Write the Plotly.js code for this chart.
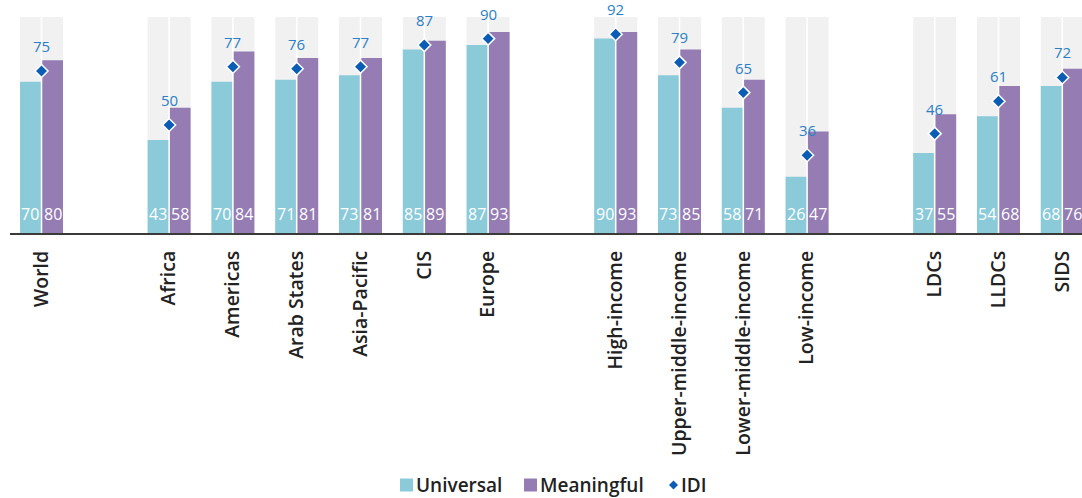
<!DOCTYPE html>
<html>
<head>
<meta charset="utf-8">
<script src="https://cdn.plot.ly/plotly-3.0.1.min.js"></script>
<style>
  html, body { margin: 0; padding: 0; background: #fff; }
  #chart { width: 1082px; height: 498px; }
</style>
</head>
<body>
<div id="chart"></div>
<script>
// Category groups (a blank slot separates each group on the axis)
const worldGroup = ["World"];
const regionGroup = ["Africa", "Americas", "Arab States", "Asia-Pacific", "CIS", "Europe"];
const incomeGroup = ["High-income", "Upper-middle-income", "Lower-middle-income", "Low-income"];
const specialGroup = ["LDCs", "LLDCs", "SIDS"];

// Values, in the order of the groups above
const universal  = [70, 43, 70, 71, 73, 85, 87, 90, 73, 58, 26, 37, 54, 68];
const meaningful = [80, 58, 84, 81, 81, 89, 93, 93, 85, 71, 47, 55, 68, 76];
const idi        = [75, 50, 77, 76, 77, 87, 90, 92, 79, 65, 36, 46, 61, 72];

const seriesNames = ["Universal", "Meaningful", "IDI"];
const scaleMax = 100;

// Build axis positions: one slot per category, one empty slot between groups
const groups = [worldGroup, regionGroup, incomeGroup, specialGroup];
const categories = [];
const xpos = [];
let slot = 0;
groups.forEach((g, gi) => {
  if (gi > 0) slot += 1;
  g.forEach(name => { categories.push(name); xpos.push(slot); slot += 1; });
});

// Bar geometry inside each slot
const barW = 0.3245;
const leftOff = -0.337;
const rightOff = 0.0125;

const C_UNI = "#8bcad9";
const C_MEA = "#957db3";
const C_IDI = "#0a5cb4";
const C_IDI_TXT = "#2c7fc5";
const C_BG = "#f1f1f1";
const C_TXT = "#222222";
const FONT = "'Open Sans', Lato, sans-serif";

const full = categories.map(() => scaleMax);

const traces = [
  { type: "bar", x: xpos, y: full, offset: leftOff, width: barW,
    marker: { color: C_BG }, showlegend: false, hoverinfo: "skip" },
  { type: "bar", x: xpos, y: full, offset: rightOff, width: barW,
    marker: { color: C_BG }, showlegend: false, hoverinfo: "skip" },
  { type: "bar", name: seriesNames[0], x: xpos, y: universal, offset: leftOff, width: barW,
    marker: { color: C_UNI }, showlegend: false },
  { type: "bar", name: seriesNames[1], x: xpos, y: meaningful, offset: rightOff, width: barW,
    marker: { color: C_MEA }, showlegend: false },
  { type: "scatter", mode: "markers", name: seriesNames[2], x: xpos, y: idi, showlegend: false,
    marker: { symbol: "diamond", size: 10, color: C_IDI, line: { color: "#ffffff", width: 1.5 } } }
];

const annotations = [];
xpos.forEach((x, i) => {
  // IDI value above its marker
  annotations.push({
    x: x, y: idi[i], xref: "x", yref: "y", text: String(idi[i]),
    showarrow: false, yanchor: "bottom", yshift: 13,
    font: { family: FONT, size: 15, color: C_IDI_TXT }
  });
  // Bar values at the foot of each bar
  annotations.push({
    x: x + leftOff + barW / 2, y: 0, xref: "x", yref: "y", text: String(universal[i]),
    showarrow: false, yanchor: "bottom", yshift: 6,
    font: { family: FONT, size: 16, color: "#ffffff" }
  });
  annotations.push({
    x: x + rightOff + barW / 2, y: 0, xref: "x", yref: "y", text: String(meaningful[i]),
    showarrow: false, yanchor: "bottom", yshift: 6,
    font: { family: FONT, size: 16, color: "#ffffff" }
  });
});

// Legend row below the axis labels (compact key: swatch right next to its text)
const W = 1082, H = 498;
const M = { l: 10, r: 0, t: 17, b: 265 };
const plotW = W - M.l - M.r, plotH = H - M.t - M.b;
const px2x = px => (px - M.l) / plotW;
const py2y = py => (H - M.b - py) / plotH;
const legendY = 485;
const legendFont = { family: FONT, size: 19, color: C_TXT, weight: 600 };
const shapes = [
  { type: "rect", xref: "paper", yref: "paper", x0: px2x(400), x1: px2x(413),
    y0: py2y(legendY + 6.5), y1: py2y(legendY - 6.5), fillcolor: C_UNI, line: { width: 0 } },
  { type: "rect", xref: "paper", yref: "paper", x0: px2x(524), x1: px2x(537),
    y0: py2y(legendY + 6.5), y1: py2y(legendY - 6.5), fillcolor: C_MEA, line: { width: 0 } },
  { type: "path", xref: "paper", yref: "paper", xsizemode: "pixel", ysizemode: "pixel",
    xanchor: px2x(673.5), yanchor: py2y(legendY), path: "M0,-4.5 L4.5,0 L0,4.5 L-4.5,0 Z",
    fillcolor: C_IDI, line: { width: 0 } }
];
[[414, seriesNames[0]], [538, seriesNames[1]], [679, seriesNames[2]]].forEach(([px, t]) => {
  annotations.push({
    x: px2x(px), y: py2y(legendY), xref: "paper", yref: "paper", text: t,
    showarrow: false, xanchor: "left", yanchor: "middle", font: legendFont
  });
});

const layout = {
  width: W, height: H,
  margin: M,
  paper_bgcolor: "#ffffff", plot_bgcolor: "#ffffff",
  barmode: "overlay",
  showlegend: false,
  xaxis: {
    range: [-0.494, 16.309],
    tickmode: "array", tickvals: xpos, ticktext: categories,
    tickangle: -90,
    tickfont: { family: FONT, size: 19.5, color: C_TXT, weight: 600 },
    ticks: "", ticklabelstandoff: 8,
    showline: true, linecolor: "#3a3a3a", linewidth: 2,
    showgrid: false, zeroline: false, fixedrange: true
  },
  yaxis: { range: [0, scaleMax], visible: false, fixedrange: true },
  shapes: shapes,
  annotations: annotations
};

Plotly.newPlot("chart", traces, layout, { displayModeBar: false, staticPlot: true });
</script>
</body>
</html>
